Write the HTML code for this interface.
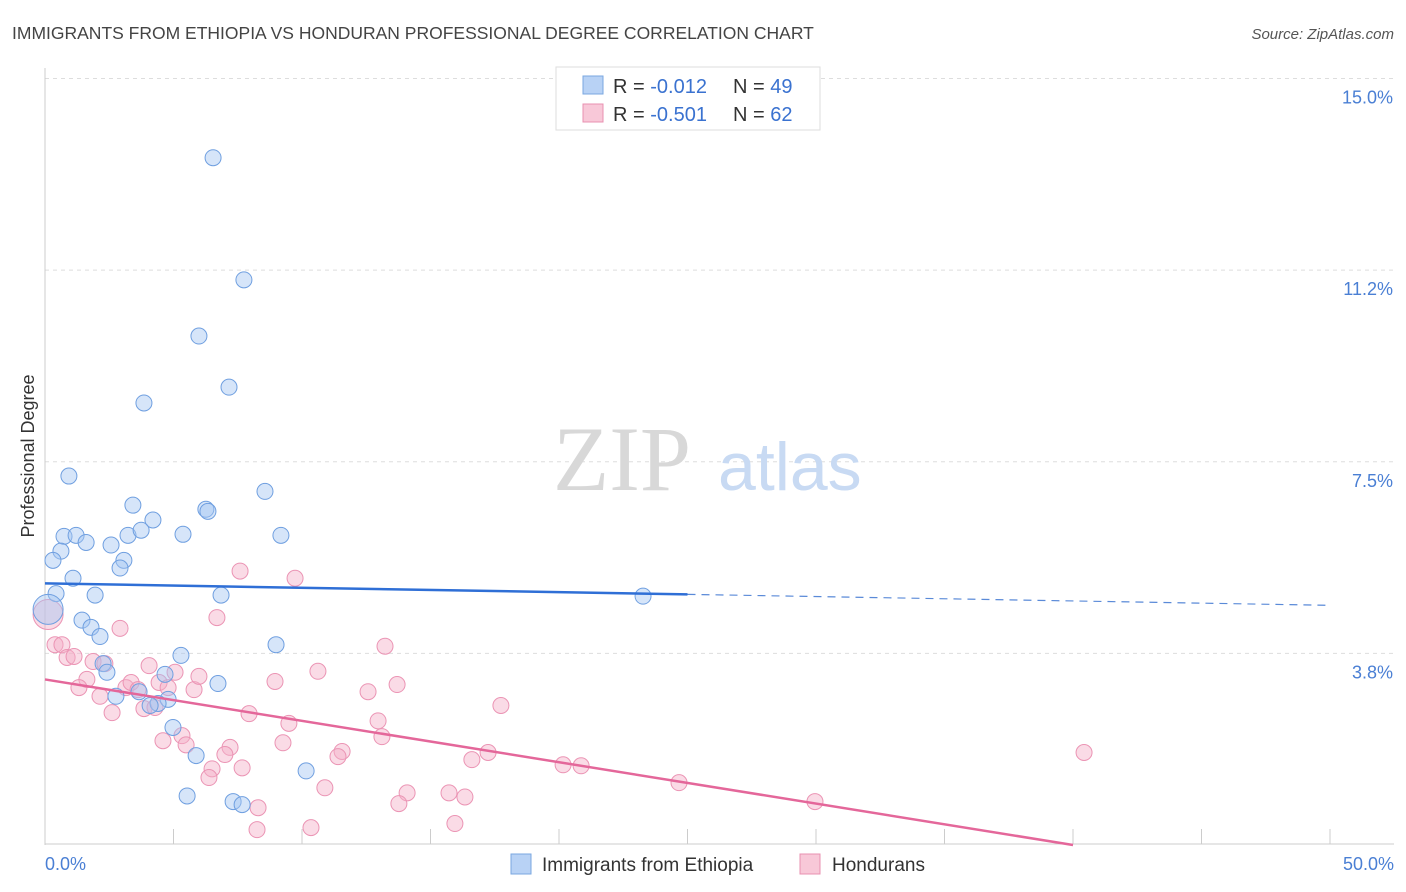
<!DOCTYPE html>
<html><head><meta charset="utf-8"><style>
body{margin:0;background:#fff;font-family:"Liberation Sans",sans-serif;}
svg{display:block}
</style></head><body>
<svg id="chart" width="1406" height="892" viewBox="0 0 1406 892">
<text x="12" y="39" font-size="17.5" fill="#444">IMMIGRANTS FROM ETHIOPIA VS HONDURAN PROFESSIONAL DEGREE CORRELATION CHART</text>
<text x="1394" y="39" font-size="15" fill="#555" text-anchor="end" font-style="italic">Source: ZipAtlas.com</text>
<g id="grid"></g>
<g id="yticks"></g>
<g id="xticks"></g>
<text x="553" y="490" font-size="92" fill="#d8d8d8" font-family="Liberation Serif,serif">ZIP</text>
<text x="718" y="490" font-size="68" fill="#c8daf3">atlas</text>
<text transform="translate(34,456) rotate(-90)" font-size="18" fill="#333" text-anchor="middle">Professional Degree</text>
<g id="pink"></g>
<g id="blue"></g>
<g id="trends"></g>
<g>
<rect x="556" y="67" width="264" height="63" fill="#fff" stroke="#ddd"/>
<rect x="583" y="76" width="20" height="18" fill="#b8d2f5" stroke="#7aa7e0"/>
<rect x="583" y="104" width="20" height="18" fill="#f8c8d8" stroke="#e890b0"/>
<text x="613" y="93" font-size="20" fill="#333">R = <tspan fill="#3a72d0">-0.012</tspan></text>
<text x="733" y="93" font-size="20" fill="#333">N = <tspan fill="#3a72d0">49</tspan></text>
<text x="613" y="121" font-size="20" fill="#333">R = <tspan fill="#3a72d0">-0.501</tspan></text>
<text x="733" y="121" font-size="20" fill="#333">N = <tspan fill="#3a72d0">62</tspan></text>
</g>
<text x="45" y="870" font-size="18" fill="#4a7fd4">0.0%</text>
<text x="1394" y="870" font-size="18" fill="#4a7fd4" text-anchor="end">50.0%</text>
<g>
<rect x="511" y="854" width="20" height="20" fill="#b8d2f5" stroke="#7aa7e0"/>
<text x="542" y="871" font-size="19" fill="#333">Immigrants from Ethiopia</text>
<rect x="800" y="854" width="20" height="20" fill="#f8c8d8" stroke="#e890b0"/>
<text x="832" y="871" font-size="19" fill="#333">Hondurans</text>
</g>
</svg>
<script>
const yTicks=[3.75,7.5,11.25,15];
const yTickLabels=["3.8%","7.5%","11.2%","15.0%"];
const xTicks=[0,5,10,15,20,25,30,35,40,45,50];
const blueX=[6.54,7.74,5.99,7.16,3.85,0.93,8.56,3.42,6.26,6.34,4.20,0.74,1.21,1.60,3.23,3.74,5.37,9.18,2.57,0.62,0.31,3.07,2.92,1.09,0.43,1.95,6.85,23.27,1.44,1.79,2.14,8.99,5.29,2.26,2.41,4.67,6.73,3.66,2.76,4.79,4.40,4.09,4.98,5.88,10.16,5.53,7.32,7.67,0.12];
const blueY=[13.45,11.06,9.96,8.96,8.65,7.22,6.92,6.65,6.57,6.53,6.36,6.04,6.06,5.92,6.06,6.16,6.08,6.06,5.87,5.75,5.57,5.57,5.42,5.22,4.92,4.89,4.89,4.87,4.40,4.26,4.08,3.92,3.71,3.55,3.38,3.34,3.16,3.00,2.91,2.85,2.77,2.73,2.30,1.75,1.45,0.96,0.85,0.79,4.61];
const pinkX=[0.12,0.39,0.66,0.86,1.13,1.87,2.33,2.92,4.05,5.06,6.69,7.59,9.73,13.23,10.62,8.95,1.63,1.32,2.14,2.61,3.15,3.35,3.62,4.44,4.79,5.80,5.99,3.85,4.28,4.59,5.33,5.49,7.94,9.49,12.57,13.70,17.74,12.96,13.11,9.26,7.20,7.00,7.67,6.50,6.38,11.56,11.40,16.61,17.24,20.16,20.86,10.89,14.09,13.77,15.72,16.34,8.29,8.25,10.35,15.95,24.67,29.96,40.43];
const pinkY=[4.51,3.92,3.92,3.67,3.69,3.59,3.55,4.24,3.51,3.38,4.45,5.36,5.22,3.89,3.40,3.20,3.24,3.08,2.91,2.59,3.08,3.18,3.04,3.18,3.08,3.04,3.30,2.67,2.69,2.04,2.14,1.96,2.57,2.38,3.00,3.14,2.73,2.43,2.12,2.00,1.91,1.77,1.51,1.49,1.32,1.83,1.73,1.67,1.81,1.57,1.55,1.12,1.02,0.81,1.02,0.94,0.73,0.30,0.34,0.42,1.22,0.85,1.81];
const blueTrend=[5.12,4.69];
const pinkTrend=[3.24,-0.081];
const NS="http://www.w3.org/2000/svg";
function x(v){return 45+v*25.7;}
function y(v){return 845-v*51.1;}
function mk(tag,attrs,parent){const e=document.createElementNS(NS,tag);for(const k in attrs)e.setAttribute(k,attrs[k]);parent.appendChild(e);return e;}
const grid=document.getElementById('grid'),yt=document.getElementById('yticks'),xt=document.getElementById('xticks');
yTicks.forEach((t,i)=>{
 const l=mk('line',{x1:45,x2:1394,y1:y(t),y2:y(t),stroke:'#ddd','stroke-dasharray':'4,4'},grid);
 
 
 const tx=mk('text',{x:1393,y:y(t)+25,'font-size':18,fill:'#4a7fd4','text-anchor':'end'},yt);
 tx.textContent=yTickLabels[i];
 
 
});
mk('line',{x1:45,x2:45,y1:68,y2:845,stroke:'#ccc'},xt);
mk('line',{x1:45,x2:1394,y1:844,y2:844,stroke:'#ccc'},xt);
xTicks.forEach(t=>{
 const l=mk('line',{x1:x(t),x2:x(t),y1:829,y2:844,stroke:'#ccc'},xt);
 
 
});
const pg=document.getElementById('pink'),bg=document.getElementById('blue');
pinkX.forEach((v,i)=>{
 const c=mk('circle',{cx:x(v),cy:y(pinkY[i]),r:i===0?15:8,fill:'rgba(245,175,200,0.45)',stroke:'#eb94b4','stroke-width':1},pg);
 
 
});
blueX.forEach((v,i)=>{
 const c=mk('circle',{cx:x(v),cy:y(blueY[i]),r:i===blueX.length-1?15:8,fill:'rgba(165,198,242,0.45)',stroke:'#6f9fe0','stroke-width':1},bg);
 
 
});
const tg=document.getElementById('trends');
const bs=(blueTrend[1]-blueTrend[0])/50;
const b1=mk('line',{x1:x(0),y1:y(blueTrend[0]),x2:x(25),y2:y(blueTrend[0]+bs*25),stroke:'#2f6fd6','stroke-width':2.5},tg);


const b2=mk('line',{x1:x(25),y1:y(blueTrend[0]+bs*25),x2:x(50),y2:y(blueTrend[1]),stroke:'#5a8ad8','stroke-width':1.2,'stroke-dasharray':'8,6'},tg);


const pEnd=-pinkTrend[0]/pinkTrend[1];
const p1=mk('line',{x1:x(0),y1:y(pinkTrend[0]),x2:x(Math.min(pEnd,50)),y2:y(pinkTrend[0]+pinkTrend[1]*Math.min(pEnd,50)),stroke:'#e4679a','stroke-width':2.5},tg);


</script>
</body></html>
